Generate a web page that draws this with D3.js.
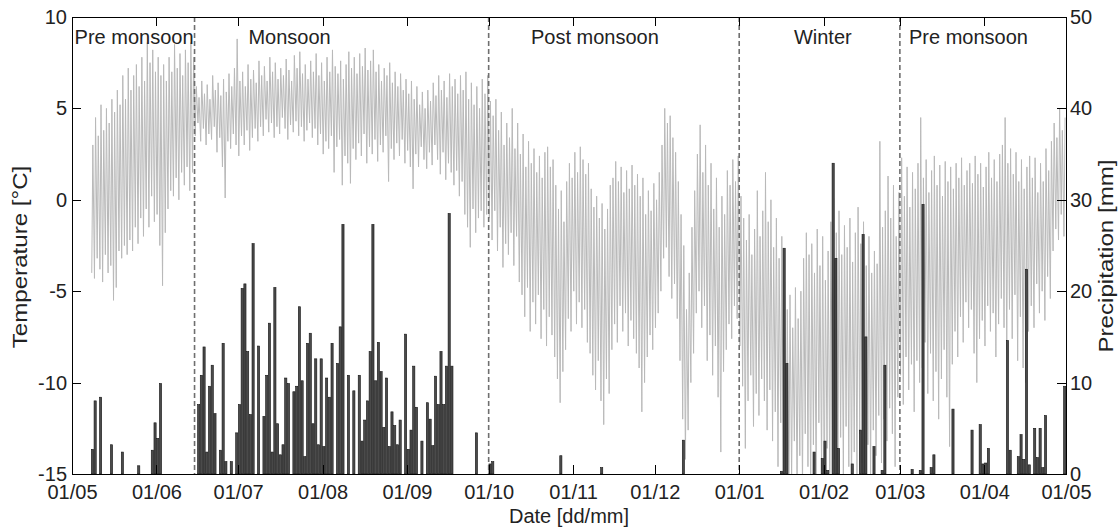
<!DOCTYPE html>
<html>
<head>
<meta charset="utf-8">
<script src="https://cdn.jsdelivr.net/npm/d3@7"></script>
<style>
  body { margin: 0; background: #fff; }
  text { font-family: "Liberation Sans", Arial, Helvetica, sans-serif; fill: #222; }
</style>
</head>
<body>
<div id="chart"></div>
<script>
// day 0 = 01/05, one value per day for a full year
const startDate = new Date(Date.UTC(2013, 4, 1));

// daily precipitation [mm]
const precip = [
  0, 0, 0, 0, 0, 0, 0, 2.7, 8.0, 0,
  8.4, 0, 0, 0, 3.2, 0, 0, 0, 2.4, 0,
  0, 0, 0, 0, 0.9, 0, 0, 0, 0, 2.6,
  5.6, 3.9, 9.9, 0, 0, 0, 0, 0, 0, 0,
  0, 0, 0, 0, 0, 0, 7.6, 10.8, 13.9, 2.4,
  9.6, 11.9, 6.6, 0, 2.6, 14.3, 1.35, 0, 1.35, 0,
  4.5, 7.6, 20.3, 20.8, 13.4, 6.5, 25.2, 0, 14.0, 0,
  6.3, 10.8, 16.5, 2.4, 20.4, 5.5, 2.1, 3.2, 10.5, 9.9,
  0, 9.0, 9.6, 18.3, 10.2, 1.9, 14.3, 15.4, 5.5, 12.6,
  3.2, 12.6, 3.0, 10.5, 8.4, 14.3, 0, 12.1, 16.1, 27.3,
  0, 10.8, 0, 9.1, 0, 10.8, 3.6, 5.9, 8.0, 13.4,
  27.3, 10.2, 14.4, 11.2, 5.1, 10.5, 3.0, 6.8, 5.3, 3.2,
  5.9, 0, 15.3, 2.7, 4.8, 11.8, 7.3, 0, 3.6, 0,
  7.8, 6.0, 3.1, 10.7, 7.6, 13.4, 7.6, 11.8, 28.5, 11.8,
  0, 0, 0, 0, 0, 0, 0, 0, 4.5, 0,
  0, 0, 0, 1.1, 1.35, 0, 0, 0, 0, 0,
  0, 0, 0, 0, 0, 0, 0, 0, 0, 0,
  0, 0, 0, 0, 0, 0, 0, 0, 0, 2.0,
  0, 0, 0, 0, 0, 0, 0, 0, 0, 0,
  0, 0, 0, 0, 0.7, 0, 0, 0, 0, 0,
  0, 0, 0, 0, 0, 0, 0, 0, 0, 0,
  0, 0, 0, 0, 0, 0, 0, 0, 0, 0,
  0, 0, 0, 0, 3.7, 0, 0, 0, 0, 0,
  0, 0, 0, 0, 0, 0, 0, 0, 0, 0,
  0, 0, 0, 0, 0, 0, 0, 0, 0, 0,
  0, 0, 0, 0, 0, 0, 0, 0, 0, 0,
  0.3, 24.7, 12.1, 0, 0, 0, 0, 0, 0, 0,
  0, 0, 2.4, 0, 0, 1.7, 3.6, 0.4, 0, 34.0,
  23.6, 2.8, 0, 0, 0, 0, 1.1, 0, 0, 4.8,
  26.2, 15.0, 0, 0, 3.0, 0, 0, 0.4, 11.9, 0,
  0, 0, 0, 0, 0, 0, 0, 0, 0.5, 0,
  0, 0.4, 29.5, 0, 0, 0.7, 2.1, 0, 0, 0,
  0, 0, 0, 7.1, 0, 0, 0, 0, 0, 0,
  4.8, 0, 0, 5.4, 1.1, 1.2, 2.8, 0, 0, 0,
  0, 0, 0, 14.6, 2.6, 0, 0, 1.9, 4.3, 1.6,
  22.4, 1.0, 0, 5.0, 1.8, 5.0, 0.7, 6.4, 0, 0,
  0, 0, 0, 0, 9.6
];

// daily maximum temperature [°C]
const tMax = [
  null, null, null, null, null, null, null, 3.0, 4.5, 3.5,
  5.2, 3.8, 5.0, 4.2, 5.5, 4.8, 6.0, 5.2, 6.8, 5.5,
  7.2, 6.0, 6.8, 7.4, 6.2, 7.8, 6.5, 8.6, 7.5, 8.2,
  7.0, 7.8, 6.8, 7.4, 6.5, 7.8, 7.0, 8.5, 7.2, 8.0,
  6.8, 8.2, 7.5, 8.6, 7.8, 6.2, 5.6, 6.5, 5.8, 6.3,
  5.5, 6.8, 6.0, 6.4, 5.7, 6.6, 5.9, 6.9, 6.2, 7.2,
  8.8, 6.5, 7.0, 6.2, 7.4, 6.6, 7.1, 6.4, 7.6, 6.8,
  7.3, 6.5, 7.8, 7.0, 7.5, 6.6, 7.2, 6.8, 7.7, 7.1,
  6.5, 7.9, 7.2, 8.1, 6.9, 7.4, 6.6, 7.6, 7.0, 8.0,
  6.8, 7.5, 6.5, 7.8, 7.0, 8.2, 7.3, 6.9, 7.6, 6.6,
  7.4, 8.1, 7.2, 7.8, 6.9, 8.0, 7.3, 8.3, 7.1, 7.6,
  8.2, 7.0, 7.4, 6.5, 7.2, 6.8, 7.5, 6.4, 7.0, 6.2,
  6.9, 6.0, 6.6, 5.8, 6.5, 5.5, 6.2, 5.2, 5.9, 5.0,
  6.0, 5.4, 6.4, 5.7, 6.8, 6.0, 6.5, 5.6, 6.9, 6.2,
  6.6, 5.8, 6.8, 6.0, 7.0, 5.5, 6.4, 5.2, 6.2, 5.0,
  6.6, 5.8, 6.8, 5.4, 4.6, 5.5, 3.8, 4.8, 3.0, 4.2,
  3.4, 5.0, 2.8, 4.2, 2.5, 3.6, 1.8, 3.2, 2.0, 2.8,
  1.5, 2.4, 1.2, 2.6, 2.9, 1.8, 2.2, 0.8, -0.5, 0.5,
  -1.2, 1.0, 2.0, 1.2, 2.6, 1.5, 2.9, 2.2, 1.4, 2.0,
  0.6, -0.4, 0.2, -1.0, -0.2, -1.6, -0.5, 0.8, 1.2, 2.1,
  1.0, 1.8, 0.4, 1.6, 0.6, 1.9, 0.8, 1.4, 0.2, 1.2,
  -0.8, 0.5, -0.6, 0.9, 0.0, 1.5, 3.0, 5.0, 4.2, 4.6,
  3.4, 2.6, 1.0, -0.8, -2.5, -6.0, -4.0, -1.5, 0.5, 2.5,
  4.1, 1.5, 3.0, 0.8, 2.0, -0.5, 1.2, -1.5, 0.2, -0.8,
  1.6, 0.8, 2.2, 1.0, 2.4, 0.2, -1.0, -2.2, -0.8, -3.0,
  -1.6, 0.5, -2.0, -0.6, 1.5, -1.2, 0.0, -2.6, -1.0, -3.2,
  -2.0, -4.5, -6.0, -5.2, -7.0, -4.8, -6.5, -5.0, -3.2, -1.8,
  -3.0, -2.4, -4.0, -1.6, -3.6, -2.0, -4.4, -2.8, -1.2, 0.1,
  -1.8, -0.6, -3.0, -1.4, -2.6, -1.0, -3.4, -1.8, -0.4, -2.4,
  -1.2, -3.6, -2.0, -4.0, -2.8, -3.5, 3.2, -1.5, -0.6, 1.3,
  -1.0, 0.8, -2.0, 0.4, 2.3, 0.2, 1.8, -0.4, 1.5, 0.6,
  2.0, 4.5, 1.2, 2.2, 0.4, 1.6, 2.4, 0.8, 1.9, 0.2,
  2.1, 1.0, 1.8, 0.6, 2.0, 1.2, 2.3, 0.8, 1.6, 2.0,
  0.9, 2.4, 1.4, 2.0, 0.7, 1.8, 2.6, 1.2, 2.2, 1.0,
  2.5, 3.0, 4.5, 2.0, 2.8, 1.4, 2.6, 1.0, 2.2, 0.6,
  1.8, 2.4, 1.2, 2.3, 0.4, 2.0, 1.0, 2.8, 1.6, 3.2,
  4.2, 3.4, 5.0, 3.8, 4.5
];

// daily minimum temperature [°C]
const tMin = [
  null, null, null, null, null, null, null, -4.0, -4.3, -3.2,
  -3.8, -4.5, -3.0, -4.0, -3.6, -5.5, -4.8, -2.8, -3.2, -2.5,
  -3.0, -2.2, -2.8, -1.5, -2.4, -1.0, -2.0, -0.5, -1.5, 0.2,
  -1.2, -0.8, -2.5, -4.7, -1.8, -0.5, 0.5, 0.2, 1.2, 0.0,
  1.5, 0.8, 1.8, 0.5, 1.5, 3.5, 4.2, 3.2, 3.9, 3.0,
  3.6, 3.3, 4.0, 2.6, 3.4, 1.8, 0.1, 3.2, 2.8, 3.6,
  3.0, 2.4, 3.5, 3.0, 3.8, 2.7, 3.4, 3.9, 3.2, 4.0,
  3.5, 4.4, 3.7, 4.2, 3.4, 4.0, 3.6, 4.5, 3.9, 3.3,
  4.1, 3.7, 4.3, 3.5, 4.0, 3.2, 3.8, 4.2, 3.4, 3.9,
  3.0, 3.6, 2.5, 3.2, 2.8, 3.5, 1.5, 2.9, 3.3, 0.8,
  2.4, 2.0, 0.9, 2.8, 2.2, 3.1, 2.4, 3.6, 2.0, 2.9,
  2.5, 3.3, 2.1, 3.0, 2.6, 3.5, 1.0, 2.8, 2.2, 3.1,
  2.4, 3.3, 2.0, 2.7, 1.8, 0.6, 2.5, 1.8, 2.9, 2.2,
  1.7, 2.6, 1.9, 3.0, 2.2, 1.4, 2.6, 1.1, 2.0, 1.5,
  0.8, 1.6, 0.2, 1.0, -0.8, -1.5, -2.6, -0.5, -1.8, -1.0,
  -0.6, -1.5, -0.8, -1.0, -2.2, -0.6, -2.8, -1.5, -3.7, -2.4,
  -3.0, -1.8, -3.6, -2.0, -4.5, -5.2, -6.4, -4.8, -7.2, -5.6,
  -6.8, -5.2, -7.6, -6.0, -8.0, -6.4, -7.4, -8.6, -9.8, -11.1,
  -9.4, -8.2, -6.5, -7.2, -5.0, -6.8, -5.6, -7.0, -6.0, -7.8,
  -8.4, -9.6, -10.4, -8.8, -11.0, -12.3, -9.8, -10.6, -8.2, -6.8,
  -7.8, -5.8, -7.2, -6.2, -8.0, -6.6, -7.6, -8.4, -9.2, -11.6,
  -10.0, -8.6, -7.4, -8.2, -7.0, -6.2, -5.0, -3.2, -2.6, -4.2,
  -5.4, -4.6, -6.5, -8.8, -12.0, -14.2, -12.6, -10.0, -8.4, -6.2,
  -5.0, -7.0, -5.8, -8.8, -7.4, -9.6, -8.0, -10.8, -13.8, -9.4,
  -8.2, -6.8, -7.6, -5.8, -6.5, -8.0, -10.2, -13.6, -11.0, -9.6,
  -12.4, -10.6, -11.8, -9.8, -11.0, -12.6, -10.4, -13.2, -11.6, -14.6,
  -12.2, -15.6, -14.8, -16.0, -15.4, -13.2, -16.2, -14.0, -15.8, -12.8,
  -14.6, -16.0, -13.4, -15.2, -12.2, -14.8, -16.4, -13.6, -15.4, -12.6,
  -14.2, -16.0, -13.0, -15.0, -12.4, -14.6, -16.2, -13.8, -15.6, -12.8,
  -14.4, -16.0, -13.4, -15.2, -12.6, -14.0, -11.8, -14.4, -12.0, -13.2,
  -11.4, -12.8, -14.6, -10.8, -9.6, -11.2, -8.6, -10.4, -9.0, -11.6,
  -8.8, -10.0, -9.2, -7.8, -10.6, -8.4, -11.0, -9.4, -12.0, -9.8,
  -8.2, -10.8, -13.5, -9.0, -7.2, -8.6, -6.4, -7.8, -5.6, -7.0,
  -6.0, -8.4, -10.0, -7.6, -6.6, -8.0, -5.8, -7.2, -6.2, -8.6,
  -6.8, -5.4, -7.0, -8.2, -6.0, -7.6, -5.2, -8.8, -6.4, -9.2,
  -10.0, -7.2, -5.8, -7.0, -4.6, -6.2, -5.0, -6.6, -4.2, -5.4,
  -2.8, -1.6, -2.2, -0.8, -2.0
];

const tempTicks = [-15, -10, -5, 0, 5, 10];
const precipTicks = [0, 10, 20, 30, 40, 50];
// season boundaries, days after 01/05
const seasonBreaks = [45, 153, 245, 304];
const seasonNames = ["Pre monsoon", "Monsoon", "Post monsoon", "Winter", "Pre monsoon"];
const seasonLabelDay = [22.8, 79.9, 192, 275.7, 329.2];

const W = 1119, H = 528;
const plotL = 72, plotR = 1066, plotT = 17, plotB = 474;

const svg = d3.select("#chart").append("svg")
    .attr("width", W)
    .attr("height", H);

const x = d3.scaleUtc()
    .domain([startDate, d3.utcDay.offset(startDate, 365)])
    .range([plotL, plotR]);
const dayX = d => x(new Date(startDate.getTime() + d * 864e5));

const yT = d3.scaleLinear().domain([-15, 10]).range([plotB, plotT]);
const yP = d3.scaleLinear().domain([0, 50]).range([plotB, plotT]);

svg.append("clipPath").attr("id", "plot")
    .append("rect")
    .attr("x", plotL).attr("y", plotT)
    .attr("width", plotR - plotL).attr("height", plotB - plotT);

// temperature: night minimum then afternoon maximum for each day
const tempPts = [];
tMax.forEach((v, i) => {
    tempPts.push({ d: i + 0.25, v: tMin[i] });
    tempPts.push({ d: i + 0.65, v: v });
});

svg.append("path")
    .datum(tempPts)
    .attr("clip-path", "url(#plot)")
    .attr("fill", "none")
    .attr("stroke", "#b9b9b9")
    .attr("stroke-width", 1)
    .attr("d", d3.line()
        .defined(p => p.v != null)
        .x(p => dayX(p.d))
        .y(p => yT(p.v)));

// precipitation bars
svg.append("g")
    .selectAll("rect")
    .data(precip.map((v, i) => ({ d: i, v: v })).filter(p => p.v > 0))
    .enter().append("rect")
    .attr("x", p => dayX(p.d + 0.1))
    .attr("width", p => dayX(p.d + 0.9) - dayX(p.d + 0.1))
    .attr("y", p => yP(p.v))
    .attr("height", p => yP(0) - yP(p.v))
    .attr("fill", "#4b4b4b")
    .attr("stroke", "#141414")
    .attr("stroke-width", 0.6);

// season separators
svg.append("g")
    .selectAll("line")
    .data(seasonBreaks)
    .enter().append("line")
    .attr("x1", d => dayX(d)).attr("x2", d => dayX(d))
    .attr("y1", plotT).attr("y2", plotB)
    .attr("stroke", "#6f6f6f")
    .attr("stroke-width", 1.6)
    .attr("stroke-dasharray", "5,3");

svg.append("g")
    .selectAll("text")
    .data(seasonNames)
    .enter().append("text")
    .attr("x", (s, i) => dayX(seasonLabelDay[i]))
    .attr("y", 44)
    .attr("text-anchor", "middle")
    .style("font-size", "20px")
    .text(s => s);

// axes, ticks pointing inwards
const months = d3.utcMonth.range(startDate, d3.utcDay.offset(startDate, 366));
const plain = d => String(d); // hyphen minus, like the original

function styleAxis(g) {
    g.selectAll("path, line").attr("stroke", "#000").attr("shape-rendering", "crispEdges");
    g.selectAll("text").style("font-size", "20px")
        .style("font-family", "'Liberation Sans', Arial, sans-serif").attr("fill", "#222");
}

svg.append("g")
    .attr("transform", `translate(0,${plotB})`)
    .call(d3.axisBottom(x).tickValues(months).tickFormat(d3.utcFormat("%d/%m"))
        .tickSizeInner(-9).tickSizeOuter(0).tickPadding(11))
    .call(styleAxis);

svg.append("g")
    .attr("transform", `translate(0,${plotT})`)
    .call(d3.axisTop(x).tickValues(months).tickFormat("")
        .tickSizeInner(-9).tickSizeOuter(0))
    .call(styleAxis);

svg.append("g")
    .attr("transform", `translate(${plotL},0)`)
    .call(d3.axisLeft(yT).tickValues(tempTicks).tickFormat(plain)
        .tickSizeInner(-9).tickSizeOuter(0).tickPadding(5))
    .call(styleAxis);

svg.append("g")
    .attr("transform", `translate(${plotR},0)`)
    .call(d3.axisRight(yP).tickValues(precipTicks).tickFormat(plain)
        .tickSizeInner(-9).tickSizeOuter(0).tickPadding(4))
    .call(styleAxis);

// axis titles
svg.append("text")
    .attr("x", (plotL + plotR) / 2)
    .attr("y", 523)
    .attr("text-anchor", "middle")
    .style("font-size", "20px")
    .text("Date [dd/mm]");

svg.append("text")
    .attr("transform", "translate(27,257) rotate(-90) scale(1.15,1)")
    .attr("text-anchor", "middle")
    .style("font-size", "21px")
    .text("Temperature [°C]");

svg.append("text")
    .attr("transform", "translate(1113,256) rotate(-90) scale(1.15,1)")
    .attr("text-anchor", "middle")
    .style("font-size", "21px")
    .text("Precipitation [mm]");
</script>
</body>
</html>
